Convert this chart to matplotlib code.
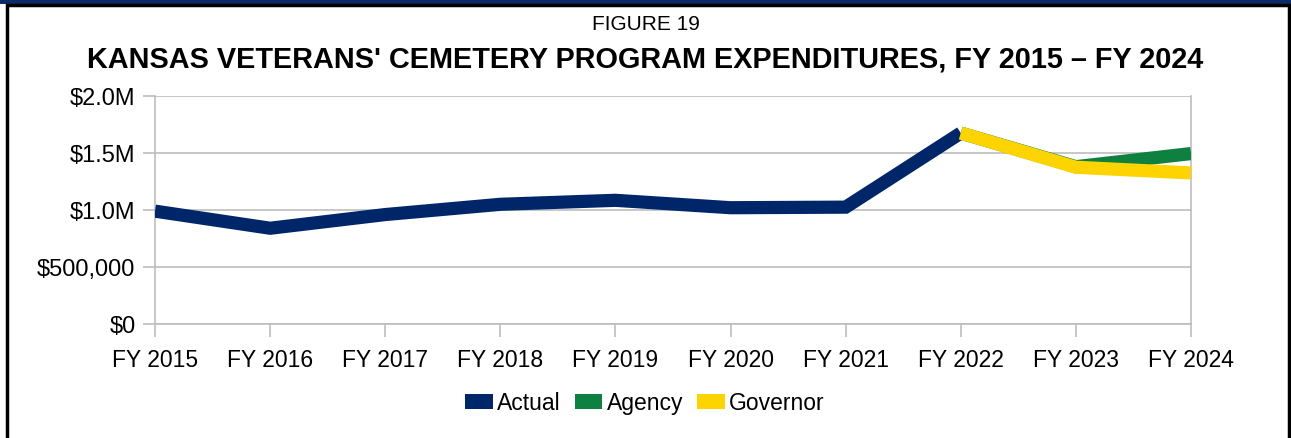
import matplotlib.pyplot as plt
from matplotlib.patches import Rectangle, Patch
from matplotlib.ticker import FuncFormatter

years = ["FY 2015", "FY 2016", "FY 2017", "FY 2018", "FY 2019",
         "FY 2020", "FY 2021", "FY 2022", "FY 2023", "FY 2024"]
actual = [0.99e6, 0.84e6, 0.96e6, 1.05e6, 1.085e6, 1.02e6, 1.025e6, 1.675e6]
agency = [1.675e6, 1.38e6, 1.495e6]
governor = [1.675e6, 1.375e6, 1.325e6]

navy = "#00266A"
green = "#0E8040"
yellow = "#FDD300"
grid_c = "#BDBDBD"

plt.rcParams['font.family'] = ['Liberation Sans', 'DejaVu Sans']

W, H = 1291, 439
fig = plt.figure(figsize=(W / 100, H / 100), dpi=100)

# frame: navy strip on top, black border
fig.patches.append(Rectangle((0, 1 - 4.5 / H), 1, 4.5 / H, transform=fig.transFigure,
                             color="#0B2A66", zorder=0, lw=0))
fig.patches.append(Rectangle((6.5 / W, -0.05), (W - 2.5) / W - 6.5 / W, 1 - 6 / H + 0.05,
                             transform=fig.transFigure, fill=False,
                             edgecolor="black", linewidth=2.5, zorder=1))

ax = fig.add_axes([155 / W, (H - 325) / H, (1191 - 155) / W, (325 - 97) / H])

x = list(range(len(years)))
ax.plot(x[:8], actual, color=navy, lw=9.5, solid_joinstyle="miter",
        solid_capstyle="butt", zorder=3)
ax.plot(x[7:], agency, color=green, lw=9.5, solid_joinstyle="miter",
        solid_capstyle="butt", zorder=4)
ax.plot(x[7:], governor, color=yellow, lw=9.5, solid_joinstyle="miter",
        solid_capstyle="butt", zorder=5)

ax.set_xlim(0, 9)
ax.set_ylim(0, 2.0e6)
ax.set_yticks([0, 0.5e6, 1.0e6, 1.5e6, 2.0e6])


def fmt(v, pos):
    if v == 0:
        return "$0"
    if v < 1e6:
        return f"${v:,.0f}"
    return f"${v / 1e6:.1f}M"


ax.yaxis.set_major_formatter(FuncFormatter(fmt))
ax.set_xticks(x)
ax.set_xticklabels(years)
ax.grid(axis="y", color=grid_c, lw=1.2)
ax.set_axisbelow(True)
for s in ["left", "right", "bottom"]:
    ax.spines[s].set_color(grid_c)
    ax.spines[s].set_linewidth(1.2)
ax.spines["top"].set_visible(False)
ax.tick_params(axis="both", length=9, width=1.2, color=grid_c, labelsize=16.5,
               labelcolor="black")
ax.tick_params(axis="y", labelsize=17)
ax.tick_params(axis="x", pad=8)
ax.tick_params(axis="y", pad=5)

fig.text(0.5, 1 - 24 / H, "FIGURE 19", ha="center", va="center", fontsize=15)
fig.text(0.5, 1 - 59 / H, "KANSAS VETERANS' CEMETERY PROGRAM EXPENDITURES, FY 2015 \u2013 FY 2024",
         ha="center", va="center", fontsize=20.8, fontweight="bold")

handles = [Patch(facecolor=navy, label="Actual"),
           Patch(facecolor=green, label="Agency"),
           Patch(facecolor=yellow, label="Governor")]
fig.legend(handles=handles, loc="center", bbox_to_anchor=(645 / W, 1 - 404 / H),
           ncol=3, frameon=False, fontsize=16.5, handlelength=1.2, handleheight=0.6,
           handletextpad=0.2, columnspacing=0.6)

fig.savefig("out.png", dpi=100)
